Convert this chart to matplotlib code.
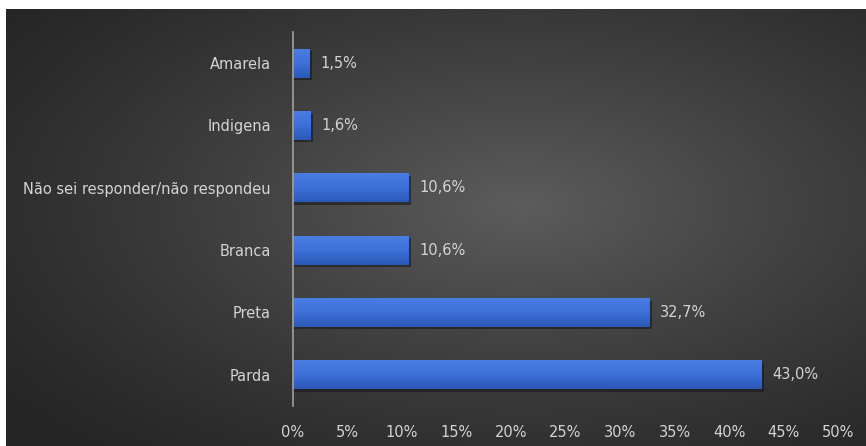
import numpy as np
import matplotlib

matplotlib.use("Agg")
import matplotlib.pyplot as plt
from matplotlib.colors import LinearSegmentedColormap

categories = ["Parda", "Preta", "Branca", "Não sei responder/não respondeu", "Indigena", "Amarela"]
values = [43.0, 32.7, 10.6, 10.6, 1.6, 1.5]
value_labels = ["43,0%", "32,7%", "10,6%", "10,6%", "1,6%", "1,5%"]
ticks = [0, 5, 10, 15, 20, 25, 30, 35, 40, 45, 50]
tick_labels = [f"{t}%" for t in ticks]

TEXT = "#d4d4d4"
plt.rcParams["font.family"] = ["DejaVu Sans"]

fig = plt.figure(figsize=(8.66, 4.46), dpi=100)
fig.patch.set_facecolor("white")

# dark backdrop with a soft radial glow in the middle
bg = fig.add_axes([6 / 866, 0, 1 - 6 / 866, 1 - 9 / 446])
bg.axis("off")
yy, xx = np.mgrid[0:1:300j, 0:1:600j]
r = np.sqrt(((xx - 0.6) / 0.75) ** 2 + ((yy - 0.45) / 0.75) ** 2)
shade = np.clip(1 - r, 0, 1) ** 1.2
grays = LinearSegmentedColormap.from_list("bg", ["#262626", "#5c5c5c"])
bg.imshow(shade, cmap=grays, aspect="auto", extent=[0, 1, 0, 1], interpolation="bilinear")
bg.set_xlim(0, 1)
bg.set_ylim(0, 1)

ax = fig.add_axes([293 / 866, 40 / 446, (838 - 293) / 866, (414 - 40) / 446])
ax.patch.set_alpha(0)
y = np.arange(len(categories))
h = 0.46
blue = LinearSegmentedColormap.from_list("bar", ["#2c58b8", "#3d6fd8", "#4a7ee2"])
grad = np.linspace(0, 1, 50).reshape(-1, 1)
for yi, v, lab in zip(y, values, value_labels):
    # drop shadow under each bar, then the bar itself as a vertical gradient
    ax.barh(yi - 0.04, v + 0.25, height=h, color="#151515", alpha=0.55, zorder=2)
    ax.imshow(grad, cmap=blue, aspect="auto", origin="lower",
              extent=[0, v, yi - h / 2, yi + h / 2], zorder=3)
    ax.text(v + 1.0, yi, lab, va="center", ha="left", color=TEXT, fontsize=10.5, zorder=4)

ax.set_xlim(0, 50)
ax.set_ylim(-0.5, len(categories) - 0.5)
ax.set_yticks(y, categories)
ax.set_xticks(ticks, tick_labels)
ax.tick_params(length=0, colors=TEXT, labelsize=10.5)
ax.tick_params(axis="y", pad=16)
ax.tick_params(axis="x", pad=14)
for s in ["top", "right", "bottom"]:
    ax.spines[s].set_visible(False)
ax.spines["left"].set_color("#a0a0a0")
ax.spines["left"].set_linewidth(1.2)
ax.spines["left"].set_zorder(5)

fig.savefig("out.png", dpi=100)
